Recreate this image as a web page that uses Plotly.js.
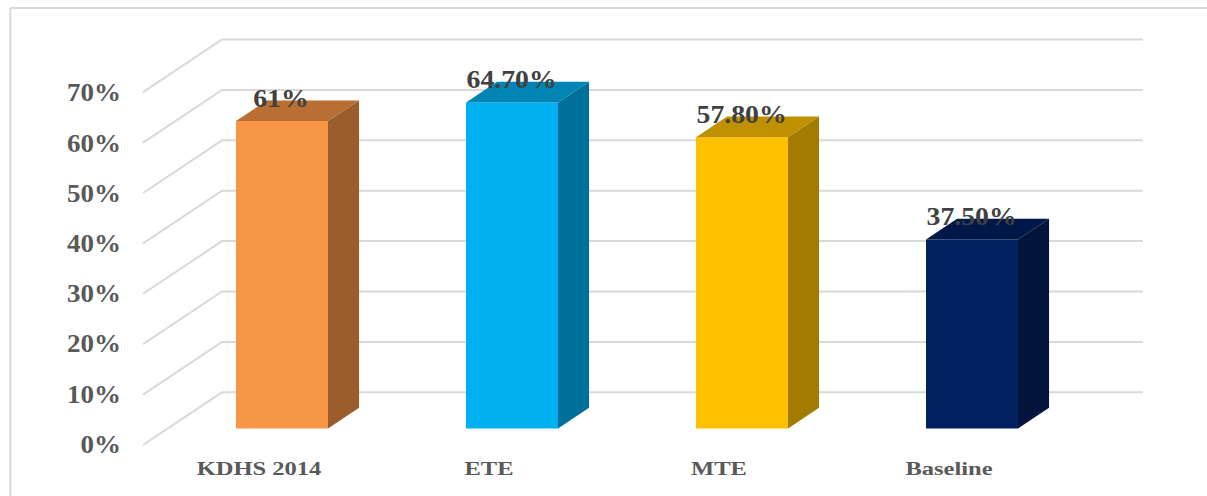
<!DOCTYPE html>
<html>
<head>
<meta charset="utf-8">
<script src="https://cdn.plot.ly/plotly-3.0.1.min.js"></script>
<style>html,body{margin:0;padding:0;background:#fff;overflow:hidden}#chart{width:1207px;height:496px}</style>
</head>
<body>
<div id="chart"></div>
<script>
// Survey results by source
const categories = ["KDHS 2014", "ETE", "MTE", "Baseline"];
const values = [61, 64.7, 57.8, 37.5];
const valueLabels = ["61%", "64.70%", "57.80%", "37.50%"];
const yTicks = [0, 10, 20, 30, 40, 50, 60, 70];

// Face colours of each column
const frontColors = ["#F79646", "#00B0F0", "#FFC000", "#002060"];
const topColors = ["#B96F34", "#0084B4", "#BF9000", "#001848"];
const sideColors = ["#9A5D2B", "#00709A", "#A37B00", "#00143C"];

// Pseudo-3D geometry, in axis units
const barWidth = 0.4;
const depthX = 0.135;
const depthY = 4.1;
const wallFrontX = -0.604, wallBackX = -0.261, wallEndX = 3.743;
const wallFrontY = -3.27, wallBackY = 7.18;

const positions = categories.map((_, i) => i);
const traces = [];

// Front faces
traces.push({
  type: "bar", x: positions, y: values, width: barWidth,
  marker: {color: frontColors, line: {width: 0}},
  hoverinfo: "skip", showlegend: false
});

// Right and top faces
values.forEach((v, i) => {
  const r = i + barWidth / 2, l = i - barWidth / 2;
  traces.push({
    type: "scatter", mode: "lines", fill: "toself", fillcolor: sideColors[i],
    line: {width: 0}, hoverinfo: "skip", showlegend: false,
    x: [r, r + depthX, r + depthX, r, r],
    y: [0, depthY, v + depthY, v, 0]
  });
  traces.push({
    type: "scatter", mode: "lines", fill: "toself", fillcolor: topColors[i],
    line: {width: 0}, hoverinfo: "skip", showlegend: false,
    x: [l, r, r + depthX, l + depthX, l],
    y: [v, v, v + depthY, v + depthY, v]
  });
});

// Carrier for the axes that hold the tick labels
traces.push({
  type: "scatter", mode: "none", x: positions, y: values,
  xaxis: "x2", yaxis: "y2", hoverinfo: "skip", showlegend: false
});

// Side wall and back wall gridlines, one polyline per tick
const shapes = yTicks.map(t => ({
  type: "path", layer: "below", xref: "x", yref: "y",
  path: `M${wallFrontX},${t + wallFrontY} L${wallBackX},${t + wallBackY} L${wallEndX},${t + wallBackY}`,
  line: {color: "#d9d9d9", width: 2}
}));

// Chart frame
shapes.push(
  {type: "line", xref: "paper", yref: "paper", x0: -0.1119, x1: -0.1119, y0: -0.1, y1: 1.0,
   line: {color: "#d9d9d9", width: 2}},
  {type: "line", xref: "paper", yref: "paper", x0: -0.1119, x1: 1.06, y0: 1.0, y1: 1.0,
   line: {color: "#d9d9d9", width: 2}}
);

const annotations = values.map((v, i) => ({
  x: i, y: v, xref: "x", yref: "y", text: valueLabels[i],
  showarrow: false, yanchor: "middle", xanchor: "center", yshift: 23, xshift: -1,
  font: {family: "Liberation Serif", size: 25, color: "#404040", weight: "bold"}
}));

const layout = {
  width: 1207, height: 496,
  margin: {l: 125, r: 57, t: 8, b: 41, pad: 0},
  paper_bgcolor: "#fff", plot_bgcolor: "rgba(0,0,0,0)",
  showlegend: false, shapes, annotations,
  xaxis: {
    range: [(125 - 282) / 230, (1150 - 282) / 230],
    showgrid: false, zeroline: false, showline: false, showticklabels: false, ticks: ""
  },
  yaxis: {
    range: [(428.5 - 455) / 5.04, (428.5 - 8) / 5.04],
    showgrid: false, zeroline: false, showline: false, showticklabels: false, ticks: ""
  },
  xaxis2: {
    overlaying: "x", anchor: "y2", side: "bottom",
    range: [(125 - 259) / 230, (1150 - 259) / 230],
    tickmode: "array", tickvals: positions, ticktext: categories,
    tickfont: {family: "Liberation Serif", size: 19, color: "#595959", weight: "bold"},
    showgrid: false, zeroline: false, showline: false, ticks: ""
  },
  yaxis2: {
    overlaying: "y", anchor: "x2", side: "left",
    range: [(444 - 455) / 5.02, (444 - 8) / 5.02],
    tickmode: "array", tickvals: yTicks, ticktext: yTicks.map(t => t + "%"),
    ticklabelstandoff: 3,
    tickfont: {family: "Liberation Serif", size: 25, color: "#595959", weight: "bold"},
    showgrid: false, zeroline: false, showline: false, ticks: ""
  }
};

// Widen a set of labels horizontally, keeping their anchor in place
function widen(selector, factor) {
  document.querySelectorAll(selector).forEach(el => {
    el.setAttribute("textLength", el.getComputedTextLength() * factor);
    el.setAttribute("lengthAdjust", "spacingAndGlyphs");
  });
}

Plotly.newPlot("chart", traces, layout, {displayModeBar: false, staticPlot: true}).then(() => {
  widen("#chart .x2tick text", 1.29);
  widen("#chart .y2tick text", 1.08);
  widen("#chart .annotation-text", 1.11);
});
</script>
</body>
</html>
